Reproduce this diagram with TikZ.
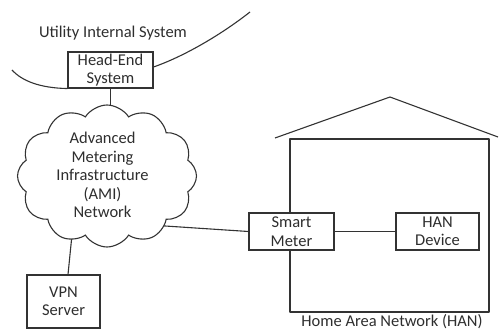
\documentclass[tikz,border=0pt]{standalone}
\usepackage{fontspec}
\setmainfont{Carlito}
\usetikzlibrary{shapes.symbols}
\definecolor{ink}{HTML}{333333}
\definecolor{txt}{HTML}{2E2E2E}
\begin{document}
\begin{tikzpicture}[x=1pt,y=-1pt,
  wire/.style={draw=ink,line width=1.1pt},
  lbl/.style={font=\fontsize{16.5}{18.5}\selectfont,text=txt,align=center,inner sep=0pt},
  unitbox/.style={lbl,draw=ink,line width=1.1pt,fill=white},
  netcloud/.style={cloud,cloud puffs=12,cloud puff arc=115,cloud ignores aspect,draw=ink,line width=1.1pt,fill=white}]
\path[use as bounding box] (0,0) rectangle (500,331);

% boundary of the utility's internal system
\node[lbl] (uis) at (113,33) {Utility Internal System};
\node[unitbox,minimum width=85pt,minimum height=36pt] (hes) at (110.5,70) {Head-End\\System};
\coordinate (bl) at (12,70);
\coordinate (br) at (250,12);
\draw[wire] (bl) .. controls (22,81) and (40,88) .. (hes.south west);
\draw[wire] ([yshift=3pt]hes.east) .. controls (185,56) and (222,34) .. (br);

% house of the customer
\coordinate (wallSW) at (290,312);
\coordinate (wallNW) at (290,139);
\coordinate (wallNE) at (489,139);
\coordinate (wallSE) at (489,312);
\coordinate (eaveL) at (275,138);
\coordinate (apex) at (390,97);
\coordinate (eaveR) at (498,137);
\draw[wire,line join=round] (wallSW) -- (wallNW) -- (wallNE) -- (wallSE) -- cycle;
\draw[wire,line join=round] (eaveL) -- (apex) -- (eaveR);
\node[lbl] (hanlbl) at (392,322) {Home Area Network (HAN)};

% devices
\node[unitbox,minimum width=85pt,minimum height=37pt] (sm) at (291.5,231.5) {Smart\\Meter};
\node[unitbox,minimum width=83pt,minimum height=37pt] (dev) at (437.5,231.5) {HAN\\Device};
\node[unitbox,minimum width=73pt,minimum height=53pt] (vpn) at (63.5,301.5) {VPN\\Server};

% links (inner ends are hidden by the cloud)
\coordinate (amiE) at (150,225);
\coordinate (amiS) at (74,215);
\draw[wire] (hes.south) -- ++(0,40);
\draw[wire] (amiE) -- (sm.west);
\draw[wire] (amiS) -- ([xshift=4.5pt]vpn.north);
\draw[wire] (sm.east) -- (dev.west);

% AMI network cloud
\node[netcloud,minimum width=179pt,minimum height=142pt] (ami) at (107,176) {};
\node[lbl] (amitxt) at (102.5,175) {Advanced\\Metering\\Infrastructure\\(AMI)\\Network};
\end{tikzpicture}
\end{document}
